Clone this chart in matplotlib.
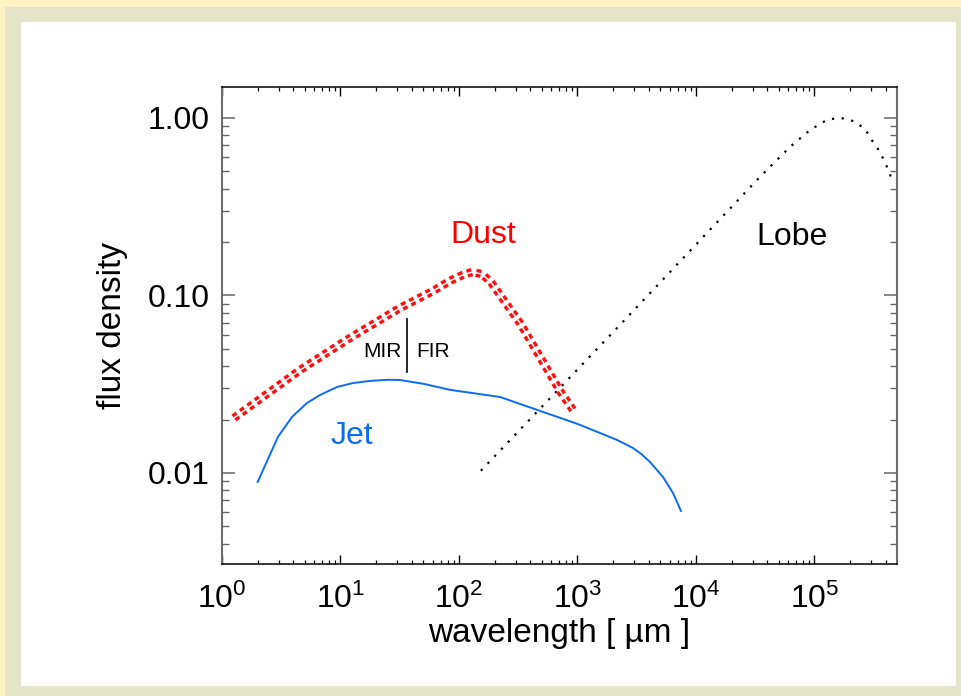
import matplotlib
matplotlib.use("Agg")
import matplotlib.pyplot as plt
from matplotlib.patches import Rectangle
from matplotlib.ticker import LogLocator, FixedLocator, NullFormatter, FixedFormatter

plt.rcParams['font.family'] = ['Liberation Sans', 'DejaVu Sans']
plt.rcParams['mathtext.fontset'] = 'custom'
plt.rcParams['mathtext.rm'] = 'Liberation Sans'
plt.rcParams['mathtext.it'] = 'Liberation Sans'

# ---- data ----
jet_wl = [2.0, 2.97, 3.9, 5.22, 6.71, 9.34, 12.7, 17.7, 25, 31.8, 50, 84, 222, 1000,
          1550, 2155, 2940, 3500, 4093, 5270, 6400, 7470]
jet_flux = [0.0089, 0.0160, 0.0207, 0.0248, 0.0275, 0.0305, 0.0321, 0.0330, 0.0335,
            0.0334, 0.0318, 0.0294, 0.0268, 0.0189, 0.0168, 0.01535, 0.01383,
            0.0127, 0.01153, 0.00949, 0.00771, 0.00611]

dust_wl = [1.26, 4.55, 12.0, 31.8, 60.3, 84, 106, 129, 156, 186, 222, 269, 327, 483,
           711, 953]
dust_flux = [0.0204, 0.0380, 0.0576, 0.0851, 0.106, 0.121, 0.130, 0.1356, 0.132,
             0.119, 0.1007, 0.0839, 0.070, 0.045, 0.029, 0.0218]

lobe_wl = [153, 2200, 34700, 62100, 91600, 127000, 158000, 188000, 220000, 267000,
           312000, 357000, 409000, 459000]
lobe_flux = [0.0103, 0.0665, 0.466, 0.687, 0.855, 0.975, 1.00, 0.99, 0.95, 0.867,
             0.733, 0.645, 0.53, 0.436]

ytick_vals = [0.01, 0.10, 1.00]
ytick_labels = ['0.01', '0.10', '1.00']
xtick_vals = [1, 10, 100, 1000, 10000, 100000]
xtick_labels = [r'$10^{0}$', r'$10^{1}$', r'$10^{2}$', r'$10^{3}$', r'$10^{4}$', r'$10^{5}$']

W, H = 962, 696
fig = plt.figure(figsize=(W / 100, H / 100), dpi=100, facecolor='#FFF2C2')
fig.patches.append(Rectangle((5 / W, 0), (W - 5) / W, (H - 7) / H,
                             transform=fig.transFigure, facecolor='#E4E4CA',
                             edgecolor='none', zorder=-2))
fig.patches.append(Rectangle((21 / W, 10 / H), (956 - 21) / W, (686 - 22) / H,
                             transform=fig.transFigure, facecolor='white',
                             edgecolor='none', zorder=-1))

ax = fig.add_axes([222 / W, (H - 564) / H, (897 - 222) / W, (564 - 87) / H])
ax.set_facecolor('white')
ax.set_xscale('log')
ax.set_yscale('log')
ax.set_xlim(1, 4.97e5)
ax.set_ylim(0.00307, 1.495)

# curves
ax.plot(jet_wl, jet_flux, color='#0a6cf5', lw=1.4, zorder=3,
        solid_joinstyle='round')
ax.plot(dust_wl, dust_flux, color='#ff1010', lw=6.0, linestyle=(0, (0.6, 0.5)),
        dash_capstyle='butt', zorder=4)
ax.plot(dust_wl, dust_flux, color='white', lw=1.1, zorder=5)
ax.plot(lobe_wl, lobe_flux, color='black', lw=1.6, linestyle=(0, (1, 3.4)), zorder=3)

# annotations
ax.text(160, 0.198, 'Dust', color='#ff0000', fontsize=23, ha='center', va='baseline')
ax.text(64500, 0.193, 'Lobe', color='black', fontsize=23, ha='center', va='baseline')
ax.text(12.5, 0.01456, 'Jet', color='#0a6cf5', fontsize=23, ha='center', va='baseline')
ax.text(22.4, 0.0450, 'MIR', color='black', fontsize=15, ha='center', va='baseline')
ax.text(60.3, 0.0450, 'FIR', color='black', fontsize=15, ha='center', va='baseline')
ax.plot([36.4, 36.4], [0.0371, 0.0738], color='black', lw=1.2)

# axes styling
ax.xaxis.set_major_locator(FixedLocator(xtick_vals))
ax.xaxis.set_major_formatter(FixedFormatter(xtick_labels))
ax.xaxis.set_minor_locator(LogLocator(base=10, subs=range(2, 10), numticks=20))
ax.xaxis.set_minor_formatter(NullFormatter())
ax.yaxis.set_major_locator(FixedLocator(ytick_vals))
ax.yaxis.set_major_formatter(FixedFormatter(ytick_labels))
ax.yaxis.set_minor_locator(LogLocator(base=10, subs=range(2, 10), numticks=20))
ax.yaxis.set_minor_formatter(NullFormatter())

ax.tick_params(axis='both', which='both', direction='in', top=True, right=True,
               labelsize=23)
ax.tick_params(axis='x', which='major', length=6.5, width=1.0, color='black', pad=14)
ax.tick_params(axis='x', which='minor', length=3, width=0.9, color='black')
ax.tick_params(axis='y', which='major', length=9.5, width=1.1, color='#666666', pad=9)
ax.tick_params(axis='y', which='minor', length=5, width=1.0, color='#666666')

for s in ['top', 'bottom']:
    ax.spines[s].set_color('black')
    ax.spines[s].set_linewidth(1.1)
for s in ['left', 'right']:
    ax.spines[s].set_color('#6e6e6e')
    ax.spines[s].set_linewidth(1.5)

ax.set_xlabel('wavelength [ µm ]', fontsize=24, labelpad=2)
ax.set_ylabel('flux density', fontsize=24, labelpad=14)

fig.savefig('out.png', dpi=100, facecolor=fig.get_facecolor())
